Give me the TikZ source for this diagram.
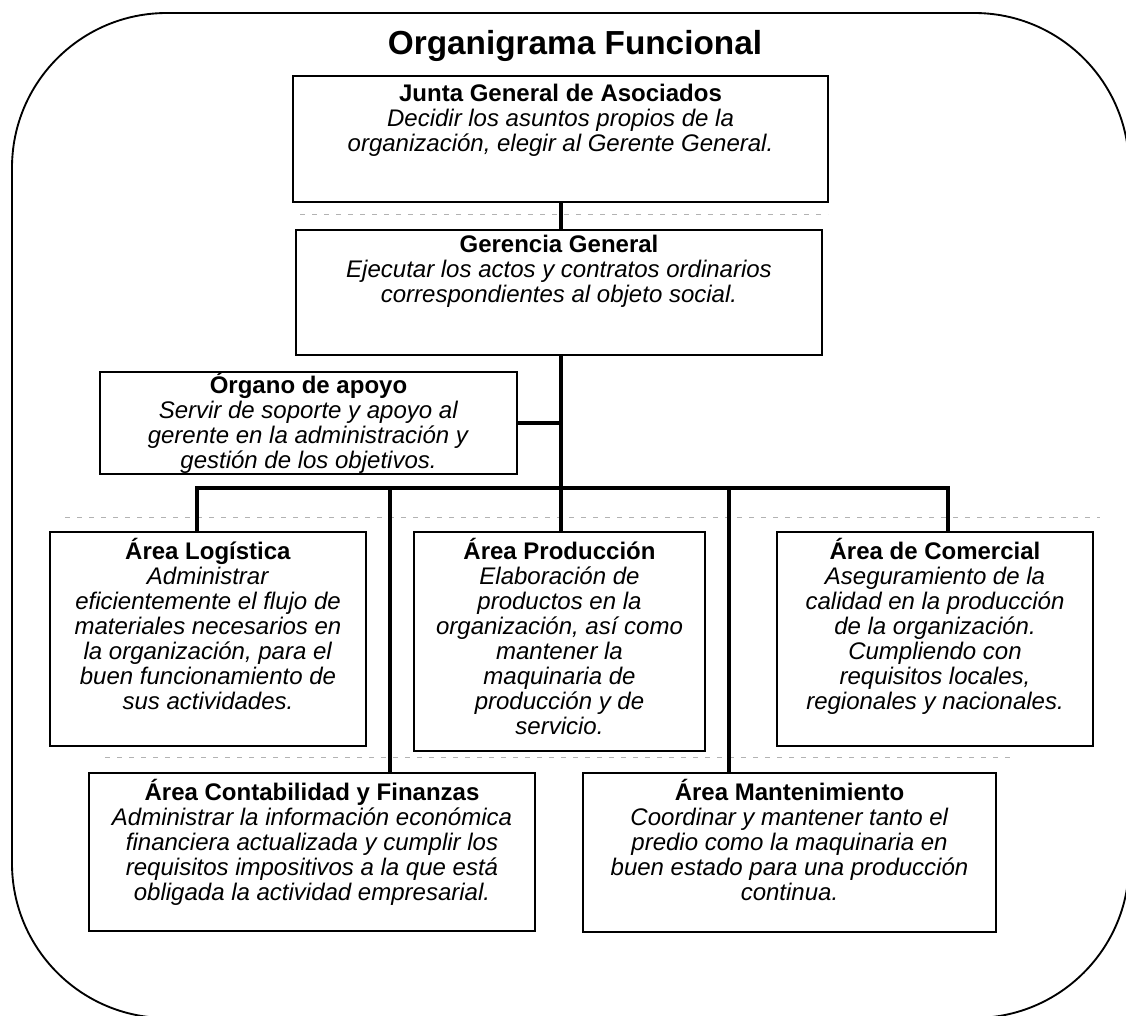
\documentclass[tikz,border=0pt]{standalone}
\usepackage{fontspec}
\setmainfont{Liberation Sans}
\begin{document}
\begin{tikzpicture}[x=0.75pt,y=-0.75pt,
  boxst/.style={draw, line width=1.5pt, inner sep=0pt, fill=white},
  txt/.style={anchor=north, inner sep=0pt, align=center, font=\fontsize{18}{18.75}\selectfont},
  conn/.style={line width=3.2pt},
  frame/.style={line width=1.4pt, rounded corners=116pt},
  ghost/.style={black!30, line width=0.5pt, dash pattern=on 4pt off 5pt}]
\useasboundingbox (0,0) rectangle (1126,1015);
\draw[frame] (12,13) rectangle (1129,1018);
% faint scan lines
\draw[ghost] (300,214) -- (828,214);
\draw[ghost] (65,517) -- (1100,517);
\draw[ghost] (105,757) -- (1010,757);
% title
\node[anchor=base, inner sep=0pt, font=\fontsize{25}{30}\selectfont\bfseries] (title) at (575,54) {Organigrama Funcional};
% boxes
\node[boxst, minimum width=401.25pt, minimum height=94.5pt] (jun) at (560.5,139) {};
\node[boxst, minimum width=394.5pt, minimum height=93.75pt] (ger) at (559,292.5) {};
\node[boxst, minimum width=312.75pt, minimum height=76.5pt] (org) at (308.5,423) {};
\node[boxst, minimum width=237pt, minimum height=160.5pt] (log) at (208,639) {};
\node[boxst, minimum width=218.25pt, minimum height=164.25pt] (pro) at (559.5,641.5) {};
\node[boxst, minimum width=237pt, minimum height=160.5pt] (com) at (935,639) {};
\node[boxst, minimum width=334.5pt, minimum height=118.5pt] (con) at (312,852) {};
\node[boxst, minimum width=309.75pt, minimum height=119.25pt] (man) at (789.5,852.5) {};
% texts
\node[txt] (junt) at ([yshift=-2pt]jun.north) {\rule{0pt}{18pt}\textbf{Junta General de Asociados}\\ \textit{Decidir los asuntos propios de la}\\ \textit{organización, elegir al Gerente General.}};
\node[txt] (gert) at ([yshift=0.5pt]ger.north) {\rule{0pt}{18pt}\textbf{Gerencia General}\\ \textit{Ejecutar los actos y contratos ordinarios}\\ \textit{correspondientes al objeto social.}};
\node[txt] (orgt) at ([yshift=1pt]org.north) {\rule{0pt}{18pt}\textbf{Órgano de apoyo}\\ \textit{Servir de soporte y apoyo al}\\ \textit{gerente en la administración y}\\ \textit{gestión de los objetivos.}};
\node[txt] (logt) at ([yshift=-3pt]log.north) {\rule{0pt}{18pt}\textbf{Área Logística}\\ \textit{Administrar}\\ \textit{eficientemente el flujo de}\\ \textit{materiales necesarios en}\\ \textit{la organización, para el}\\ \textit{buen funcionamiento de}\\ \textit{sus actividades.}};
\node[txt] (prot) at ([yshift=-3pt]pro.north) {\rule{0pt}{18pt}\textbf{Área Producción}\\ \textit{Elaboración de}\\ \textit{productos en la}\\ \textit{organización, así como}\\ \textit{mantener la}\\ \textit{maquinaria de}\\ \textit{producción y de}\\ \textit{servicio.}};
\node[txt] (comt) at ([yshift=-3pt]com.north) {\rule{0pt}{18pt}\textbf{Área de Comercial}\\ \textit{Aseguramiento de la}\\ \textit{calidad en la producción}\\ \textit{de la organización.}\\ \textit{Cumpliendo con}\\ \textit{requisitos locales,}\\ \textit{regionales y nacionales.}};
\node[txt] (cont) at ([yshift=-3pt]con.north) {\rule{0pt}{18pt}\textbf{Área Contabilidad y Finanzas}\\ \textit{Administrar la información económica}\\ \textit{financiera actualizada y cumplir los}\\ \textit{requisitos impositivos a la que está}\\ \textit{obligada la actividad empresarial.}};
\node[txt] (mant) at ([yshift=-3pt]man.north) {\rule{0pt}{18pt}\textbf{Área Mantenimiento}\\ \textit{Coordinar y mantener tanto el}\\ \textit{predio como la maquinaria en}\\ \textit{buen estado para una producción}\\ \textit{continua.}};
% connectors
\coordinate (spine) at (561,488);
\coordinate (busL) at (197,488);
\coordinate (busR) at (948,488);
\coordinate (dC) at (390,488);
\coordinate (dM) at (729,488);
\draw[conn] (jun.south -| spine) -- (ger.north -| spine);
\draw[conn] (ger.south -| spine) -- (pro.north -| spine);
\draw[conn] (org.east) -- (org.east -| spine);
\draw[conn] (log.north -| busL) -- (busL) -- (busR) -- (com.north -| busR);
\draw[conn] (dC) -- (con.north -| dC);
\draw[conn] (dM) -- (man.north -| dM);
\end{tikzpicture}
\end{document}
